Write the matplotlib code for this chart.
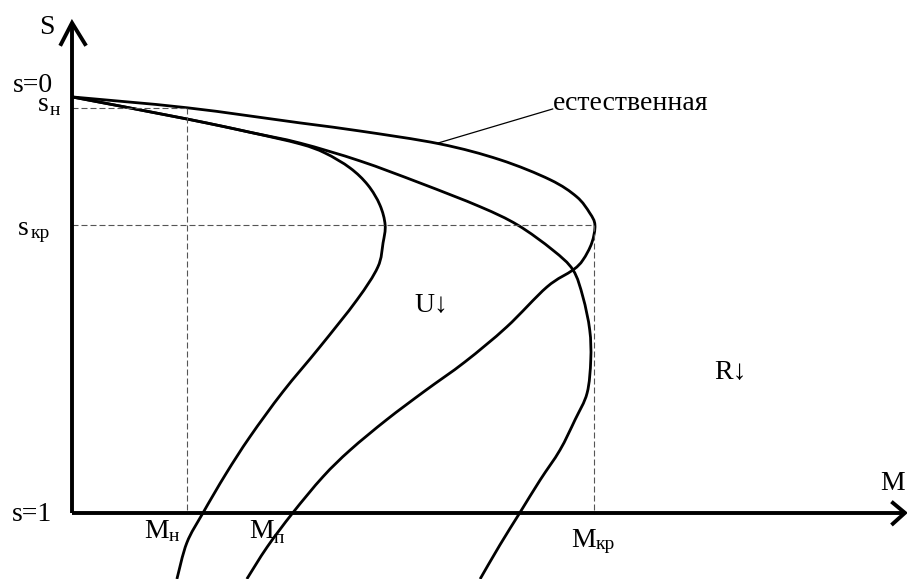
import numpy as np
import matplotlib
matplotlib.use('Agg')
import matplotlib.pyplot as plt
from matplotlib.path import Path
from matplotlib.patches import PathPatch

plt.rcParams['font.family'] = ['Liberation Serif', 'DejaVu Serif']

#%%============================================================================
# Data (M in units of M_kr, s = slip)
#==============================================================================

# natural characteristic
M_nat = [0.0, 0.220, 0.437, 0.552, 0.705, 0.820, 0.916, 0.967, 0.992, 1.002,
         0.996, 0.979, 0.960, 0.910, 0.833, 0.753, 0.676, 0.603, 0.533, 0.481,
         0.423, 0.374, 0.335]
s_nat = [0.0, 0.026, 0.0625, 0.082, 0.113, 0.151, 0.199, 0.240, 0.279, 0.308,
         0.351, 0.392, 0.416, 0.457, 0.553, 0.637, 0.707, 0.776, 0.849, 0.913,
         1.000, 1.082, 1.159]

# rotor resistance changed (same M_kr, bigger s_kr)
M_res = [0.0, 0.220, 0.341, 0.437, 0.552, 0.667, 0.782, 0.854, 0.921, 0.960,
         0.979, 0.992, 0.994, 0.987, 0.964, 0.935, 0.897, 0.858, 0.820, 0.782]
s_res = [0.0, 0.053, 0.085, 0.111, 0.154, 0.207, 0.264, 0.308, 0.368, 0.416,
         0.481, 0.560, 0.632, 0.712, 0.776, 0.849, 0.921, 1.000, 1.077, 1.159]

# lowered voltage (same s_kr, smaller M_kr)
M_volt = [0.0, 0.220, 0.341, 0.437, 0.485, 0.533, 0.567, 0.590, 0.600, 0.596,
          0.586, 0.546, 0.475, 0.404, 0.341, 0.295, 0.251, 0.220, 0.201]
s_volt = [0.0, 0.053, 0.085, 0.113, 0.135, 0.171, 0.212, 0.260, 0.308, 0.351,
          0.409, 0.488, 0.601, 0.709, 0.817, 0.906, 1.000, 1.072, 1.159]

# reference points
M_nom = 0.220
s_nom = 0.026
M_cr = 1.0
s_cr = 0.308

#%%============================================================================
# Figure
#==============================================================================

fig = plt.figure(figsize=(9.07, 5.79), dpi=100)
ax = fig.add_axes([0, 0, 1, 1])
ax.set_xlim(-0.138, 1.600)
ax.set_ylim(1.159, -0.233)
ax.axis('off')


def smooth_curve(xs, ys, **kw):
    # draw a smooth line through the read points (cubic bezier segments)
    P = np.column_stack([xs, ys])
    n = len(P)
    verts = [P[0]]
    codes = [Path.MOVETO]
    for i in range(n - 1):
        p_prev = P[max(i - 1, 0)]
        p_next2 = P[min(i + 2, n - 1)]
        c1 = P[i] + (P[i + 1] - p_prev) / 6.0
        c2 = P[i + 1] - (p_next2 - P[i]) / 6.0
        verts += [c1, c2, P[i + 1]]
        codes += [Path.CURVE4] * 3
    ax.add_patch(PathPatch(Path(verts, codes), fill=False, **kw))


# helper guides
dash = dict(color='#555555', lw=0.8, linestyle=(0, (5.4, 2.7)))
ax.plot([0, M_nom], [s_nom, s_nom], **dash)
ax.plot([M_nom, M_nom], [s_nom, 1.0], **dash)
ax.plot([0, M_cr], [s_cr, s_cr], **dash)
ax.plot([M_cr, M_cr], [s_cr, 1.0], **dash)

# axes with open arrow heads
ax.plot([0, 0], [1.0, -0.178], color='k', lw=2.8, solid_capstyle='butt')
ax.plot([-0.021, 0, 0.025], [-0.127, -0.178, -0.127], color='k', lw=2.8,
        solid_joinstyle='miter')
ax.plot([0, 1.596], [1.0, 1.0], color='k', lw=2.8, solid_capstyle='butt')
ax.plot([1.573, 1.596, 1.573], [0.976, 1.0, 1.026], color='k', lw=2.8,
        solid_joinstyle='miter')

# characteristics
smooth_curve(M_nat, s_nat, edgecolor='k', lw=2.0)
smooth_curve(M_res, s_res, edgecolor='k', lw=2.0)
smooth_curve(M_volt, s_volt, edgecolor='k', lw=2.0)

# leader line for the natural characteristic
ax.plot([0.921, 0.701], [0.029, 0.111], color='k', lw=0.9)

#%%============================================================================
# Labels
#==============================================================================

fs = 20
fs_sub = 14

def px(x, y):
    return (x - 72) / 522.0, (y - 97) / 416.0

def label(x, y, txt, size=fs):
    ax.text(*px(x, y), txt, fontsize=size, ha='left', va='baseline')

label(39, 34, 'S')
label(13, 92, 's=0')
label(38, 111, 's')
label(50, 115, 'н', fs_sub)
label(18, 235, 's')
label(31, 238, 'кр', fs_sub)
label(12, 521, 's=1')

label(144, 538, 'M')
label(169, 541, 'н', fs_sub)
label(249, 538, 'M')
label(274, 543, 'п', fs_sub)
label(571, 547, 'M')
label(596, 549, 'кр', fs_sub)
label(880, 490, 'M')

label(553, 110, 'естественная')
label(415, 312, 'U↓')
label(714, 379, 'R↓')

plt.savefig('out.png', dpi=100)
plt.close()
